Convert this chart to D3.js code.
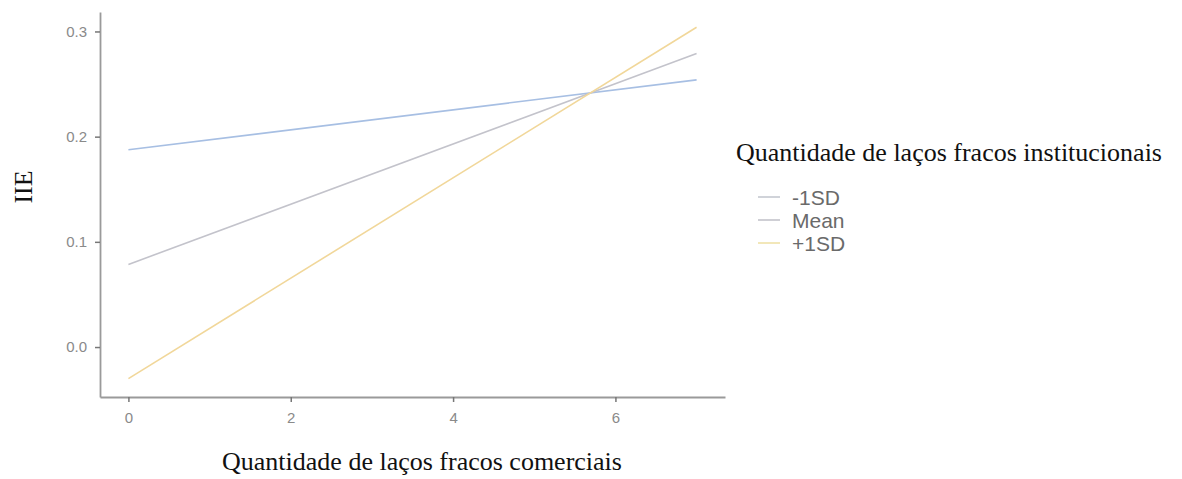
<!DOCTYPE html>
<html>
<head>
<meta charset="utf-8">
<script src="https://cdn.jsdelivr.net/npm/d3@7"></script>
<style>
  body { margin: 0; background: #fff; }
  svg { display: block; }
</style>
</head>
<body>
<svg id="chart" width="1182" height="479"></svg>
<script>
// Simple slopes: predicted IIE at the ends of the commercial weak-ties range
const xEnds = [0, 7];
const seriesNames = ["-1SD", "Mean", "+1SD"];
const lowValues = [0.1875, 0.2540];
const meanValues = [0.0785, 0.2790];
const highValues = [-0.0300, 0.3040];
const seriesColors = ["#a7bfe3", "#c3c3cb", "#f1d79a"];
const legendColors = ["#c5c8d0", "#c3c3cb", "#efe1a8"];
const xTicks = [0, 2, 4, 6];
const yTicks = [0.0, 0.1, 0.2, 0.3];

const svg = d3.select("#chart");
const x = d3.scaleLinear().domain([-0.35, 7.35]).range([100, 725]);
const y = d3.scaleLinear().domain([-0.0475, 0.3185]).range([397, 12]);

const series = [lowValues, meanValues, highValues].map((vals, i) => ({
  name: seriesNames[i],
  color: seriesColors[i],
  points: xEnds.map((xv, j) => [xv, vals[j]])
}));

const line = d3.line().x(d => x(d[0])).y(d => y(d[1]));

// Regression lines
svg.append("g").selectAll("path")
  .data(series)
  .join("path")
  .attr("d", d => line(d.points))
  .attr("fill", "none")
  .attr("stroke", d => d.color)
  .attr("stroke-width", 1.6);

// Axes
const axisColor = "#9a9a9a";
const gx = svg.append("g").attr("transform", "translate(0,397)")
  .call(d3.axisBottom(x).tickValues(xTicks).tickFormat(d3.format("d"))
    .tickSize(5).tickSizeOuter(0).tickPadding(10));
const gy = svg.append("g").attr("transform", "translate(100,0)")
  .call(d3.axisLeft(y).tickValues(yTicks).tickFormat(d3.format(".1f"))
    .tickSize(5).tickSizeOuter(0).tickPadding(8));

[gx, gy].forEach(g => {
  g.select(".domain").attr("stroke", axisColor).attr("stroke-width", 1.8);
  g.selectAll(".tick line").attr("stroke", "#777").attr("stroke-width", 1.5);
  g.selectAll(".tick text")
    .attr("fill", "#8a8a8a")
    .style("font-family", "'Liberation Sans', Arial, sans-serif")
    .style("font-size", "15px");
});

// Axis titles
const serif = "'Liberation Serif', 'Times New Roman', serif";
svg.append("text")
  .attr("x", 422).attr("y", 470)
  .attr("text-anchor", "middle")
  .style("font-family", serif)
  .style("font-size", "26px")
  .attr("fill", "#111")
  .text("Quantidade de laços fracos comerciais");

svg.append("text")
  .attr("transform", "translate(32,187) rotate(-90)")
  .attr("text-anchor", "middle")
  .style("font-family", serif)
  .style("font-size", "26px")
  .attr("fill", "#111")
  .text("IIE");

// Legend
const legend = svg.append("g");
legend.append("text")
  .attr("x", 736).attr("y", 161)
  .style("font-family", serif)
  .style("font-size", "26px")
  .attr("fill", "#111")
  .text("Quantidade de laços fracos institucionais");

const items = legend.selectAll("g.item")
  .data(seriesNames)
  .join("g")
  .attr("class", "item")
  .attr("transform", (d, i) => `translate(0,${197 + i * 23})`);
items.append("line")
  .attr("x1", 758).attr("x2", 780)
  .attr("y1", 0).attr("y2", 0)
  .attr("stroke", (d, i) => legendColors[i])
  .attr("stroke-width", 1.6);
items.append("text")
  .attr("x", 792).attr("y", 0)
  .attr("dy", "0.36em")
  .style("font-family", "'Liberation Sans', Arial, sans-serif")
  .style("font-size", "21px")
  .attr("fill", "#6a6a6a")
  .text(d => d);
</script>
</body>
</html>
